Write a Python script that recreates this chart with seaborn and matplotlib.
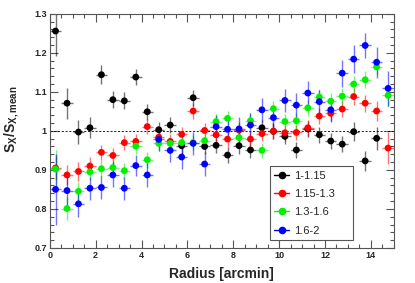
import numpy as np
import pandas as pd
import matplotlib
matplotlib.use('Agg')
import matplotlib.pyplot as plt
from matplotlib.lines import Line2D
from matplotlib.ticker import MultipleLocator, FuncFormatter
import seaborn as sns

# radial bins of 0.5 arcmin
radius = np.arange(0.25, 15.0, 0.5)
radius_err = 0.25

labels = ['1-1.15', '1.15-1.3', '1.3-1.6', '1.6-2']
colors = ['#000000', '#ff0000', '#00f000', '#0000ff']

black = [1.256, 1.071, 0.997, 1.008, 1.144, 1.080, 1.077, 1.138, 1.049, 1.003,
         1.015, 0.962, 1.085, 0.960, 0.963, 0.938, 0.962, 0.951, 1.008, 0.999,
         0.986, 0.951, 1.005, 0.990, 0.974, 0.966, 0.998, 0.923, 0.981, np.nan]
black_err = [0.065, 0.04, 0.03, 0.027, 0.025, 0.022, 0.022, 0.02, 0.02, 0.02,
             0.02, 0.02, 0.02, 0.02, 0.02, 0.02, 0.02, 0.02, 0.02, 0.02,
             0.02, 0.02, 0.02, 0.02, 0.02, 0.02, 0.025, 0.025, 0.03, np.nan]

red = [0.905, 0.887, 0.896, 0.910, 0.945, 0.937, 0.970, 0.973, 1.011, 0.984,
       0.973, 0.991, 1.051, 1.001, 0.990, 0.979, 1.002, 0.979, 0.993, 0.999,
       0.995, 0.996, 1.008, 1.038, 1.045, 1.056, 1.088, 1.071, 1.051, 0.956]
red_err = [0.03, 0.025, 0.025, 0.022, 0.02, 0.02, 0.02, 0.02, 0.02, 0.02,
           0.02, 0.02, 0.02, 0.02, 0.02, 0.02, 0.02, 0.02, 0.02, 0.02,
           0.02, 0.02, 0.02, 0.02, 0.02, 0.02, 0.022, 0.022, 0.025, 0.04]

green = [0.902, 0.801, 0.845, 0.895, 0.903, 0.906, 0.898, 0.961, 0.926, 0.968,
         0.968, 0.970, 0.970, 0.975, 1.024, 1.032, 0.983, 1.026, 0.950, 1.057,
         1.024, 1.026, 1.059, 1.087, 1.076, 1.089, 1.120, 1.131, 1.164, 1.091]
green_err = [0.05, 0.03, 0.025, 0.022, 0.022, 0.022, 0.02, 0.02, 0.02, 0.02,
             0.02, 0.02, 0.02, 0.02, 0.02, 0.02, 0.02, 0.02, 0.02, 0.02,
             0.02, 0.02, 0.02, 0.02, 0.02, 0.02, 0.02, 0.022, 0.022, 0.03]

blue = [0.850, 0.847, 0.813, 0.853, 0.855, 0.887, 0.853, 0.911, 0.887, 0.978,
        0.950, 0.933, 0.968, 0.915, 1.011, 1.004, 1.005, 1.015, 1.054, 1.034,
        1.078, 1.066, 1.097, 1.075, 1.054, 1.148, 1.184, 1.219, 1.176, 1.109]
blue_err = [0.09, 0.04, 0.034, 0.03, 0.03, 0.032, 0.03, 0.026, 0.03, 0.03,
            0.03, 0.03, 0.03, 0.03, 0.03, 0.03, 0.03, 0.03, 0.03, 0.03,
            0.03, 0.03, 0.03, 0.03, 0.03, 0.035, 0.035, 0.032, 0.04, 0.045]

series = [black, red, green, blue]
series_err = [black_err, red_err, green_err, blue_err]

frames = []
for lab, vals, errs in zip(labels, series, series_err):
    frames.append(pd.DataFrame({'radius': radius, 'ratio': vals, 'err': errs, 'band': lab}))
df = pd.concat(frames, ignore_index=True).dropna()

sns.set_style('ticks')
plt.rcParams['font.family'] = ['Liberation Sans', 'DejaVu Sans']
plt.rcParams['mathtext.default'] = 'regular'

fig, ax = plt.subplots(figsize=(4.15, 2.83), dpi=100)
fig.subplots_adjust(left=0.12, right=0.949, top=0.951, bottom=0.124)

ax.axhline(1.0, color='black', ls=(0, (2.5, 2)), lw=0.6, zorder=1)

for lab, col in zip(labels, colors):
    d = df[df['band'] == lab]
    ax.errorbar(d['radius'], d['ratio'], xerr=radius_err, yerr=d['err'],
                fmt='none', ecolor=col, alpha=0.55, elinewidth=1.0, capsize=0, zorder=2)

sns.scatterplot(data=df, x='radius', y='ratio', hue='band', hue_order=labels,
                palette=colors, s=24, edgecolor='none', legend=False, ax=ax, zorder=3)

ax.set_xlim(0, 15)
ax.set_ylim(0.7, 1.3)
ax.xaxis.set_major_locator(MultipleLocator(2))
ax.xaxis.set_minor_locator(MultipleLocator(0.5))
ax.yaxis.set_major_locator(MultipleLocator(0.1))
ax.yaxis.set_minor_locator(MultipleLocator(0.02))
ax.yaxis.set_major_formatter(FuncFormatter(lambda v, p: '%g' % round(v, 2)))
ax.tick_params(which='both', direction='in', top=True, right=True,
               color='#555555', labelsize=6.5, width=0.8, pad=2)
ax.tick_params(which='major', length=6)
ax.tick_params(which='minor', length=3)
for t in ax.get_xticklabels() + ax.get_yticklabels():
    t.set_fontweight('bold')
for sp in ax.spines.values():
    sp.set_color('#555555')
    sp.set_linewidth(0.8)

ax.set_xlabel('Radius [arcmin]', fontsize=10, fontweight='bold', labelpad=5)
ax.set_ylabel(r'$S_{X}/S_{X,mean}$', fontsize=10, fontweight='bold')
ax.yaxis.set_label_coords(-0.085, 0.55)

handles = [Line2D([], [], color=c, marker='o', markersize=4.5, lw=1.0) for c in colors]
leg = ax.legend(handles, labels, loc='lower left', bbox_to_anchor=(0.64, 0.034, 0.24, 0.36),
                mode='expand', fontsize=8, frameon=True, fancybox=False, framealpha=1,
                edgecolor='#555555', handlelength=1.3, handletextpad=0.5,
                labelspacing=0.75, borderaxespad=0)
leg.get_frame().set_linewidth(0.8)

fig.savefig('out.png', dpi=100)
